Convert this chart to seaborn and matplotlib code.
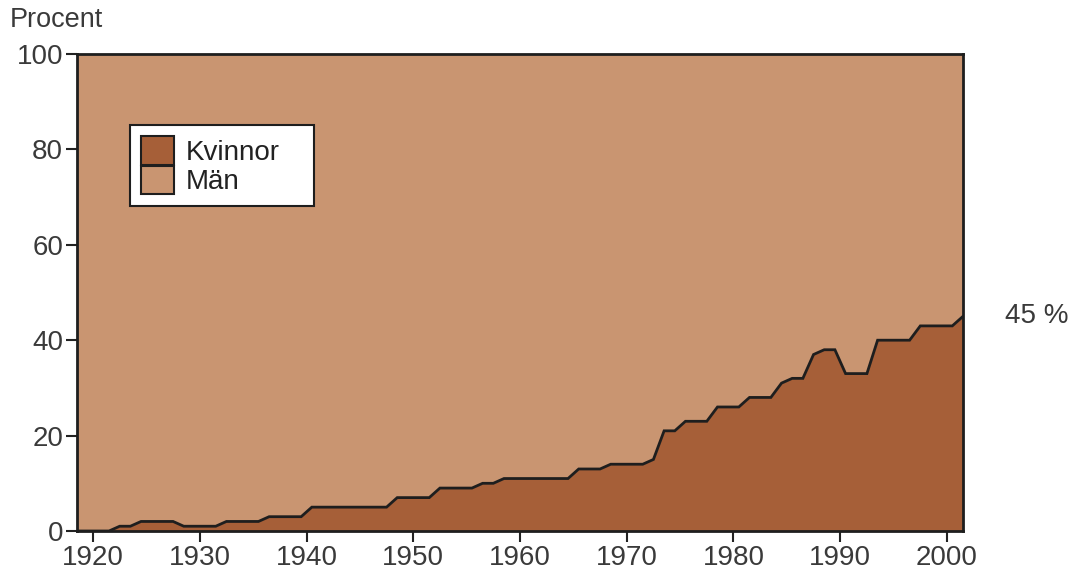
import numpy as np
import pandas as pd
import matplotlib
matplotlib.use("Agg")
import matplotlib.pyplot as plt
from matplotlib.patches import Patch
import seaborn as sns

# ---- data ----
years = list(range(1919, 2003))
kvinnor = ([0, 0, 0, 0, 1, 1, 2, 2, 2, 2, 1, 1, 1, 1, 2, 2, 2, 2, 3, 3, 3, 3]  # 1919-1940
           + [5] * 8          # 1941-1948
           + [7] * 4          # 1949-1952
           + [9] * 4          # 1953-1956
           + [10, 10]         # 1957-1958
           + [11] * 7         # 1959-1965
           + [13] * 3         # 1966-1968
           + [14] * 4         # 1969-1972
           + [15, 21, 21]     # 1973-1975
           + [23] * 3         # 1976-1978
           + [26] * 3         # 1979-1981
           + [28] * 3         # 1982-1984
           + [31, 32, 32, 37, 38, 38]  # 1985-1990
           + [33] * 3         # 1991-1993
           + [40] * 4         # 1994-1997
           + [43] * 4         # 1998-2001
           + [45])            # 2002
x_ticks = [1920, 1930, 1940, 1950, 1960, 1970, 1980, 1990, 2000]
y_ticks = [0, 20, 40, 60, 80, 100]
labels = ["Kvinnor", "Män"]
end_label = "45 %"
y_label = "Procent"

df = pd.DataFrame({"year": years, "kvinnor": kvinnor})
df["x"] = df["year"] - 0.5

c_kv = "#A65F38"
c_man = "#C99571"
txt = "#3a3a3a"

sns.set_theme(style="white")
plt.rcParams["font.family"] = ["Liberation Sans", "DejaVu Sans"]

fig = plt.figure(figsize=(10.71, 5.79), dpi=100)
ax = fig.add_axes([77 / 1071, 1 - 531 / 579, (963 - 77) / 1071, (531 - 54) / 579])

ax.fill_between(df["x"], 0, df["kvinnor"], color=c_kv, lw=0, zorder=1)
ax.fill_between(df["x"], df["kvinnor"], 100, color=c_man, lw=0, zorder=1)
sns.lineplot(data=df, x="x", y="kvinnor", ax=ax, color="#1e1e1e", lw=2,
             zorder=3, solid_joinstyle="miter")

ax.set_xlim(1918.5, 2001.5)
ax.set_ylim(0, 100)
ax.set_xticks(x_ticks)
ax.set_yticks(y_ticks)
ax.set_xticklabels([str(t) for t in x_ticks])
ax.set_yticklabels([str(t) for t in y_ticks])
ax.tick_params(axis="both", direction="out", length=8, width=1.5, color="#222222",
               labelsize=20, labelcolor=txt, bottom=True, left=True, pad=2)
ax.set_xlabel("")
ax.set_ylabel("")
for s in ax.spines.values():
    s.set_visible(True)
    s.set_color("#1e1e1e")
    s.set_linewidth(2)
    s.set_zorder(4)

fig.text(10 / 1071, 1 - 20 / 579, y_label, fontsize=19.5, color=txt, ha="left", va="center")
ax.text(1.047, 45, end_label, transform=ax.get_yaxis_transform(), fontsize=20,
        color=txt, ha="left", va="center")

handles = [Patch(facecolor=c_kv, edgecolor="#1e1e1e", lw=1.5),
           Patch(facecolor=c_man, edgecolor="#1e1e1e", lw=1.5)]
leg = ax.legend(handles, labels, loc="upper left",
                bbox_to_anchor=(53 / 886, 406 / 477 - 0.5, 184 / 886, 0.5), mode="expand",
                borderaxespad=0, fontsize=20, frameon=True, fancybox=False,
                handlelength=1.2, handleheight=1.2, labelspacing=0.0,
                handletextpad=0.4, borderpad=0.4, framealpha=1)
leg.get_frame().set_edgecolor("#1e1e1e")
leg.get_frame().set_linewidth(1.5)
for t in leg.get_texts():
    t.set_color("#222222")

fig.savefig("out.png", dpi=100)
